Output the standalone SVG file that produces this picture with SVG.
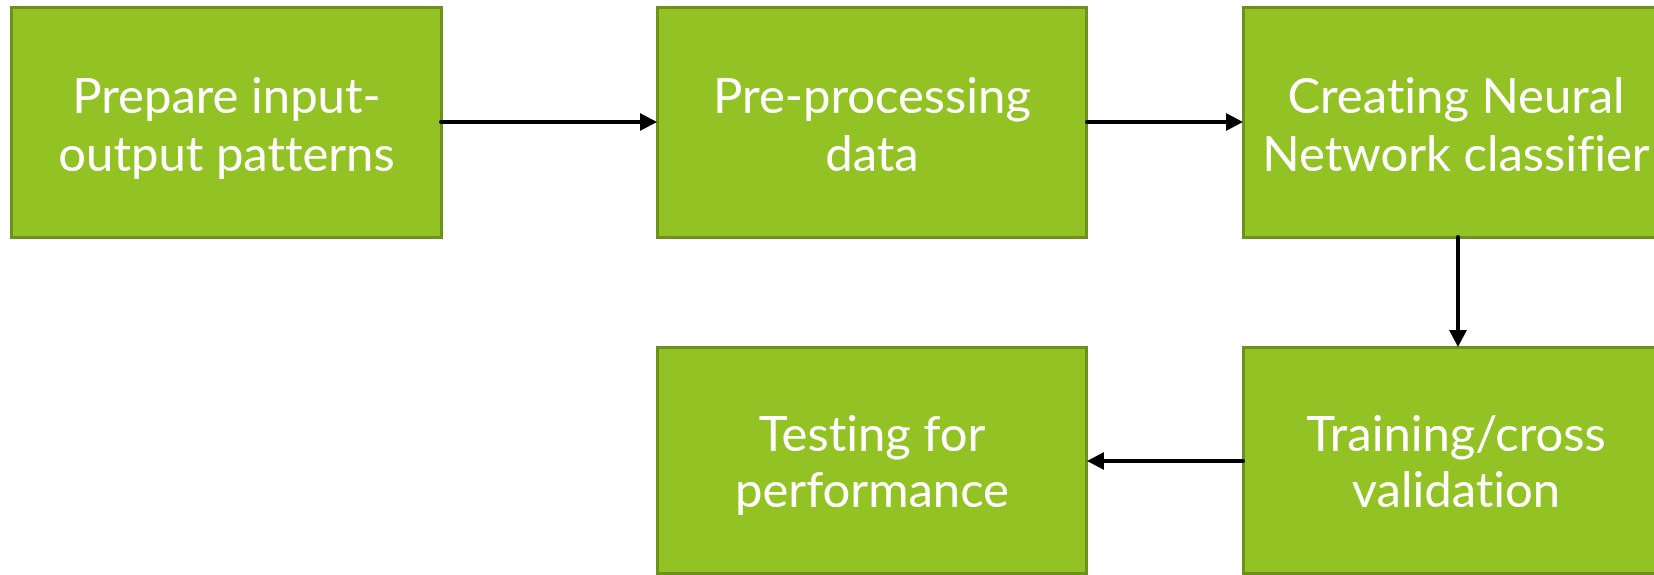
<svg xmlns="http://www.w3.org/2000/svg" width="1654" height="575" viewBox="0 0 1654 575">
<style>
.box{fill:#93C225;stroke:#6E911C;stroke-width:3}
.lbl{fill:#FFFFFF;font-family:Lato,"Open Sans","DejaVu Sans",sans-serif;font-size:49px;text-anchor:middle;font-variant-ligatures:none;font-feature-settings:"liga" 0,"clig" 0}
.conn{stroke:#000000;stroke-width:4;stroke-linecap:round;fill:none}
.head{fill:#000000}
</style>
<rect x="0" y="0" width="1654" height="575" fill="#FFFFFF"/>
<g id="node-prepare">
<rect class="box" x="11.5" y="7.5" width="430" height="230"/>
<text class="lbl" x="226.5" y="113">Prepare input-</text>
<text class="lbl" x="226.5" y="171">output patterns</text>
</g>
<g id="node-preprocessing">
<rect class="box" x="657.5" y="7.5" width="429" height="230"/>
<text class="lbl" x="872" y="113">Pre-processing</text>
<text class="lbl" x="872" y="171">data</text>
</g>
<g id="node-creating">
<rect class="box" x="1243.5" y="7.5" width="430" height="230"/>
<text class="lbl" x="1456" y="113">Creating Neural</text>
<text class="lbl" x="1456" y="171">Network classifier</text>
</g>
<g id="node-training">
<rect class="box" x="1243.5" y="347.5" width="430" height="226"/>
<text class="lbl" x="1456" y="451">Training/cross</text>
<text class="lbl" x="1456" y="507">validation</text>
</g>
<g id="node-testing">
<rect class="box" x="657.5" y="347.5" width="429" height="226"/>
<text class="lbl" x="872" y="451">Testing for</text>
<text class="lbl" x="872" y="507">performance</text>
</g>
<g id="connectors">
<line class="conn" x1="441" y1="122" x2="642" y2="122"/>
<polygon class="head" points="657,122 640,113 640,131"/>
<line class="conn" x1="1087" y1="122" x2="1228" y2="122"/>
<polygon class="head" points="1243,122 1226,113 1226,131"/>
<line class="conn" x1="1458" y1="237" x2="1458" y2="332"/>
<polygon class="head" points="1458,347 1449,330 1467,330"/>
<line class="conn" x1="1243" y1="461" x2="1102" y2="461"/>
<polygon class="head" points="1087,461 1104,452 1104,470"/>
</g>
</svg>
